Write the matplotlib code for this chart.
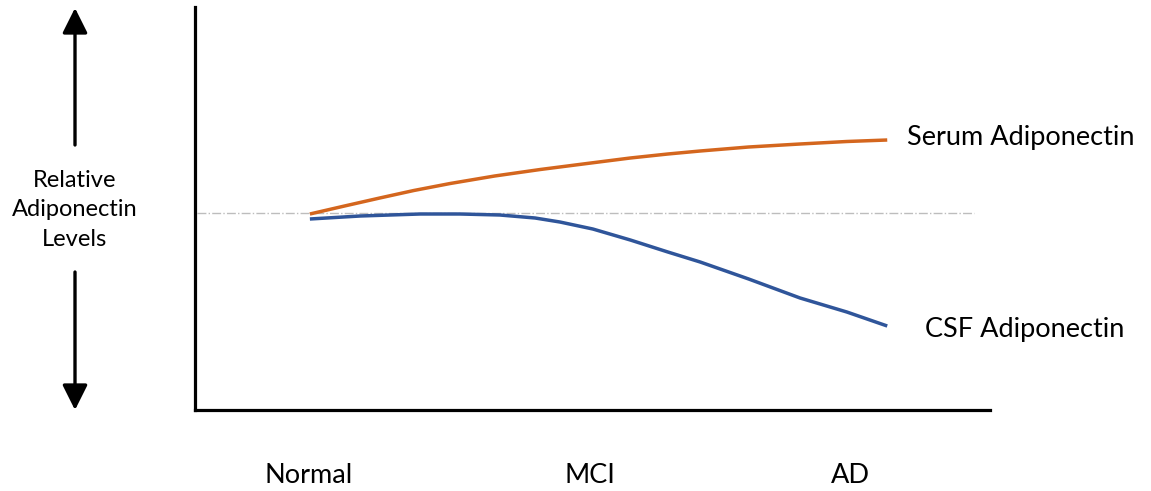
import matplotlib.pyplot as plt
from matplotlib.patches import FancyArrowPatch

plt.rcParams['font.family'] = ['Lato', 'DejaVu Sans']

# disease stage progress (0 = Normal, 1 = end of curves)
stage_ticks = [-0.003, 0.485, 0.936]
stage_labels = ['Normal', 'MCI', 'AD']

# relative adiponectin level (0 = baseline)
serum_x = [0.0, 0.06, 0.121, 0.18, 0.243, 0.32, 0.399, 0.48, 0.555, 0.62, 0.676, 0.76, 0.849, 0.93, 1.0]
serum_y = [-0.01, 0.07, 0.15, 0.225, 0.295, 0.37, 0.435, 0.495, 0.55, 0.59, 0.62, 0.66, 0.69, 0.715, 0.73]

csf_x = [0.0, 0.087, 0.191, 0.26, 0.329, 0.39, 0.433, 0.49, 0.555, 0.62, 0.676, 0.76, 0.849, 0.93, 1.0]
csf_y = [-0.06, -0.03, -0.01, -0.01, -0.02, -0.05, -0.09, -0.16, -0.27, -0.39, -0.49, -0.66, -0.85, -0.99, -1.13]

fig = plt.figure(figsize=(11.51, 4.91), dpi=100)
ax = fig.add_axes([195/1151, 81/491, 795/1151, 403/491])

ax.plot([-0.195, 1.15], [0, 0], color='#bdbdbd', lw=1, ls='-.')
ax.plot(serum_x, serum_y, color='#d4661e', lw=2.5, solid_capstyle='butt')
ax.plot(csf_x, csf_y, color='#2f559a', lw=2.5, solid_capstyle='butt')

ax.text(1.035, 0.75, 'Serum Adiponectin', fontsize=19.5, va='center', ha='left', clip_on=False)
ax.text(1.066, -1.17, 'CSF Adiponectin', fontsize=19.5, va='center', ha='left', clip_on=False)

ax.set_xlim(-0.199, 1.178)
ax.set_ylim(-1.97, 2.06)
ax.set_xticks(stage_ticks)
ax.set_xticklabels(stage_labels, fontsize=19.5)
ax.tick_params(axis='x', length=0, pad=38)
ax.set_yticks([])
for s in ['top', 'right']:
    ax.spines[s].set_visible(False)
for s in ['left', 'bottom']:
    ax.spines[s].set_linewidth(2.3)
    ax.spines[s].set_color('black')

# y-axis caption with double arrow
fig.text(75/1151, 1 - 210/491, 'Relative\nAdiponectin\nLevels', fontsize=17,
         ha='center', va='center', linespacing=1.5)
for y0, y1 in [(145, 8), (272, 410)]:
    arr = FancyArrowPatch((75/1151, 1 - y0/491), (75/1151, 1 - y1/491),
                          transform=fig.transFigure, arrowstyle='-|>,head_length=0.9,head_width=0.45',
                          mutation_scale=17, lw=2.4, color='black', shrinkA=0, shrinkB=0)
    fig.add_artist(arr)

fig.savefig('out.png', dpi=100)
